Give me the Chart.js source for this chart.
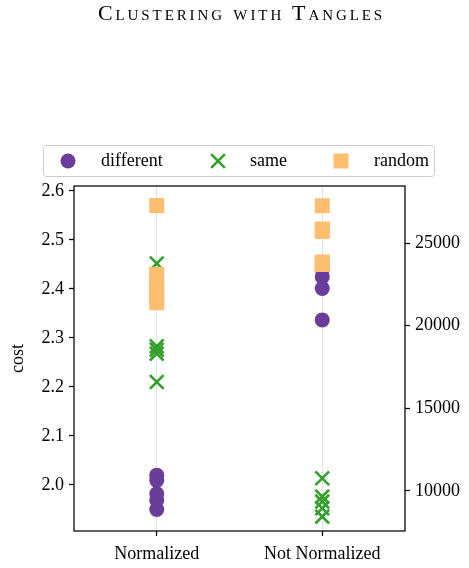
<!DOCTYPE html>
<html>
<head>
<meta charset="utf-8">
<script src="https://cdn.jsdelivr.net/npm/chart.js@4"></script>
<style>
  html, body { margin: 0; padding: 0; background: #fff; }
  #wrap { position: relative; width: 469px; height: 568px; }
  #title {
    position: absolute; left: 7px; top: 0px; width: 469px; text-align: center;
    font-family: "Liberation Serif", "DejaVu Serif", serif; font-size: 22px;
    font-variant: small-caps; letter-spacing: 2.9px; color: #000;
  }
  canvas { position: absolute; left: 0; top: 0; }
</style>
</head>
<body>
<div id="wrap">
  <canvas id="c" width="469" height="568"></canvas>
  <div id="title">Clustering with Tangles</div>
</div>
<script>
// Categories on the x axis
const methods = ['Normalized', 'Not Normalized'];
const seriesNames = ['different', 'same', 'random'];

// Normalized runs: cost on the left axis
const normDifferent = [2.020, 2.009, 1.982, 1.969, 1.950];
const normSame = [2.452, 2.283, 2.276, 2.268, 2.210];
const normRandom = [2.570, 2.430, 2.415, 2.400, 2.385, 2.372];

// Not normalized runs: cost on the right axis
const rawDifferent = [23400, 22950, 22250, 20350];
const rawSame = [10770, 9660, 9360, 8960, 8450];
const rawRandom = [27250, 25850, 25700, 23850, 23750, 23700];

// Tick labels
const leftTicks = [2.0, 2.1, 2.2, 2.3, 2.4, 2.5, 2.6];
const rightTicks = [10000, 15000, 20000, 25000];

const COLORS = { different: '#6a3d9a', same: '#33a02c', random: '#fdbf6f' };
const FONT = '"Liberation Serif", "DejaVu Serif", serif';
const FONT_SIZE = 18;

const styleFor = {
  different: { pointStyle: 'circle', pointRadius: 7.5, borderWidth: 0, order: 2 },
  same: { pointStyle: 'crossRot', pointRadius: 9.7, borderWidth: 2.6, order: 1 },
  random: { pointStyle: 'rect', pointRadius: 10.6, borderWidth: 0, order: 0 }
};

function makeSet(name, cat, values, axis) {
  const s = styleFor[name];
  return {
    label: name,
    data: values.map(v => ({ x: cat, y: v })),
    yAxisID: axis,
    pointStyle: s.pointStyle,
    pointRadius: s.pointRadius,
    pointHoverRadius: s.pointRadius,
    pointBorderWidth: s.borderWidth,
    pointBackgroundColor: COLORS[name],
    pointBorderColor: COLORS[name],
    showLine: false,
    order: s.order
  };
}

const datasets = [
  makeSet('different', methods[0], normDifferent, 'y'),
  makeSet('same', methods[0], normSame, 'y'),
  makeSet('random', methods[0], normRandom, 'y'),
  makeSet('different', methods[1], rawDifferent, 'y2'),
  makeSet('same', methods[1], rawSame, 'y2'),
  makeSet('random', methods[1], rawRandom, 'y2')
];

// Frame around the plotting area
const framePlugin = {
  id: 'frame',
  afterDraw(chart) {
    const { ctx, chartArea: a } = chart;
    ctx.save();
    ctx.strokeStyle = '#000';
    ctx.lineWidth = 1.25;
    ctx.strokeRect(a.left, a.top, a.right - a.left, a.bottom - a.top);
    ctx.restore();
  }
};

// Horizontal legend box above the plot
const legendPlugin = {
  id: 'topLegend',
  afterDraw(chart) {
    const ctx = chart.ctx;
    const box = { x: 43.5, y: 145.5, w: 391, h: 31 };
    ctx.save();
    ctx.strokeStyle = '#cccccc';
    ctx.lineWidth = 1;
    ctx.beginPath();
    ctx.roundRect(box.x, box.y, box.w, box.h, 3);
    ctx.stroke();
    const cy = box.y + box.h / 2;
    const items = [
      { name: seriesNames[0], mx: 68, tx: 101 },
      { name: seriesNames[1], mx: 218, tx: 250 },
      { name: seriesNames[2], mx: 341, tx: 374 }
    ];
    items.forEach(it => {
      const s = styleFor[it.name];
      ctx.fillStyle = COLORS[it.name];
      ctx.strokeStyle = COLORS[it.name];
      ctx.lineWidth = s.borderWidth || 1;
      Chart.helpers.drawPoint(ctx, {
        pointStyle: s.pointStyle, radius: s.pointRadius, rotation: 0,
        borderWidth: s.borderWidth
      }, it.mx, cy);
      ctx.fillStyle = '#000';
      ctx.font = FONT_SIZE + 'px ' + FONT;
      ctx.textBaseline = 'middle';
      ctx.textAlign = 'left';
      ctx.fillText(it.name, it.tx, cy);
    });
    ctx.restore();
  }
};

const tickFont = { family: FONT, size: FONT_SIZE };

new Chart(document.getElementById('c'), {
  type: 'scatter',
  data: { labels: methods, datasets },
  options: {
    responsive: false,
    animation: false,
    layout: { padding: { top: 186, left: 0, right: 0, bottom: 0 } },
    plugins: { legend: { display: false }, tooltip: { enabled: false } },
    scales: {
      x: {
        type: 'category',
        labels: methods,
        offset: true,
        grid: { display: true, offset: false, color: '#e3e3e3', lineWidth: 1,
                drawTicks: true, tickLength: 5, tickColor: '#000', tickWidth: 1.25 },
        border: { display: false },
        ticks: { color: '#000', font: tickFont, padding: 7, maxRotation: 0 },
        afterFit(s) { s.height = 37; }
      },
      y: {
        type: 'linear',
        position: 'left',
        min: 1.906,
        max: 2.610,
        grid: { display: true, drawOnChartArea: false, drawTicks: true,
                tickLength: 5, tickColor: '#000', tickWidth: 1.25 },
        border: { display: false },
        afterBuildTicks(s) { s.ticks = leftTicks.map(v => ({ value: v })); },
        ticks: { color: '#000', font: tickFont, padding: 5,
                 callback: v => Number(v).toFixed(1) },
        title: { display: true, text: 'cost', color: '#000', font: tickFont,
                 padding: { top: 7, bottom: 0 } },
        afterFit(s) { s.width = 74; }
      },
      y2: {
        type: 'linear',
        position: 'right',
        min: 7580,
        max: 28450,
        grid: { display: true, drawOnChartArea: false, drawTicks: true,
                tickLength: 5, tickColor: '#000', tickWidth: 1.25 },
        border: { display: false },
        afterBuildTicks(s) { s.ticks = rightTicks.map(v => ({ value: v })); },
        ticks: { color: '#000', font: tickFont, padding: 5,
                 callback: v => String(v) },
        afterFit(s) { s.width = 64; }
      }
    }
  },
  plugins: [framePlugin, legendPlugin]
});
</script>
</body>
</html>
